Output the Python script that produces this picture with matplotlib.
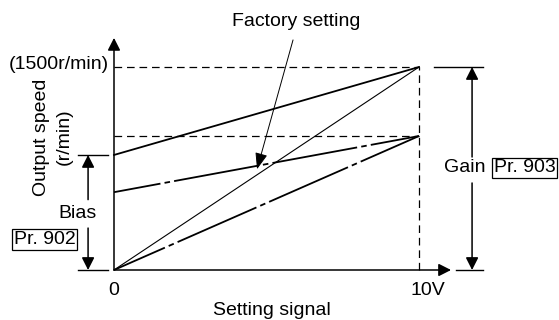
import matplotlib.pyplot as plt

plt.rcParams['font.family'] = ['Liberation Sans', 'DejaVu Sans']
plt.rcParams['lines.scale_dashes'] = False

# setting signal (V) at both ends of each line
signal = [0, 10]
# output speed (r/min) at 0 V and 10 V
factory = [0, 1500]            # thin solid, factory setting
bias_solid = [850, 1500]       # thick solid, bias raised
bias_dashdot = [575, 990]      # dash-dot, bias and gain changed
gain_dashdot = [0, 990]        # dash-dot, gain lowered

max_speed = 1500
gain_level = 990
bias_level = 850

fig = plt.figure(figsize=(5.59, 3.20), dpi=100)
ax = fig.add_axes([114 / 559, 50 / 320, 305 / 559, 203 / 320])
ax.set_xlim(0, 10)
ax.set_ylim(0, max_speed)
ax.axis('off')

fs = 14
dashed = (0, (5.5, 3.5))
arrow = dict(arrowstyle='-|>,head_length=0.75,head_width=0.38', color='black',
             lw=1.1, shrinkA=0, shrinkB=0, mutation_scale=10)

# guide lines
ax.plot([0, 10], [max_speed, max_speed], color='black', lw=0.9, ls=dashed, clip_on=False)
ax.plot([0, 10], [gain_level, gain_level], color='black', lw=0.9, ls=dashed, clip_on=False)
ax.plot([10, 10], [0, max_speed], color='black', lw=0.9, ls=dashed, clip_on=False)

# characteristic lines
ax.plot(signal, factory, color='black', lw=0.8, clip_on=False)
ax.plot(signal, bias_solid, color='black', lw=1.3, clip_on=False)
ax.plot(signal, bias_dashdot, color='black', lw=1.3, ls=(28, (62, 3, 4, 3)), clip_on=False)
ax.plot(signal, gain_dashdot, color='black', lw=1.3, ls=(22, (62, 3, 4, 3)), clip_on=False)

# axes with arrows
ax.annotate('', xy=(11.05, 0), xytext=(0, 0), arrowprops=arrow, annotation_clip=False)
ax.annotate('', xy=(0, 1715), xytext=(0, 0), arrowprops=arrow, annotation_clip=False)

# bias marker
ax.plot([-1.18, -0.2], [bias_level, bias_level], color='black', lw=1.0, clip_on=False)
ax.plot([-1.18, -0.2], [0, 0], color='black', lw=1.0, clip_on=False)
ax.annotate('', xy=(-0.85, bias_level), xytext=(-0.85, 520), arrowprops=arrow, annotation_clip=False)
ax.annotate('', xy=(-0.85, 0), xytext=(-0.85, 310), arrowprops=arrow, annotation_clip=False)
ax.text(-1.21, 421, 'Bias', fontsize=fs, ha='center', va='center')
ax.text(-2.28, 225, 'Pr. 902', fontsize=fs, ha='center', va='center',
        bbox=dict(boxstyle='square,pad=0.08', fc='white', ec='black', lw=0.9))

# gain marker
ax.plot([10.49, 12.1], [max_speed, max_speed], color='black', lw=1.0, clip_on=False)
ax.plot([11.21, 12.1], [0, 0], color='black', lw=1.0, clip_on=False)
ax.annotate('', xy=(11.74, max_speed), xytext=(11.74, 835), arrowprops=arrow, annotation_clip=False)
ax.annotate('', xy=(11.74, 0), xytext=(11.74, 643), arrowprops=arrow, annotation_clip=False)
ax.text(11.49, 754, 'Gain', fontsize=fs, ha='center', va='center')
ax.text(13.46, 754, 'Pr. 903', fontsize=fs, ha='center', va='center',
        bbox=dict(boxstyle='square,pad=0.08', fc='white', ec='black', lw=0.9))

# factory setting callout
ax.annotate('', xy=(4.69, 745), xytext=(5.87, 1700),
            arrowprops=dict(arrowstyle='-|>,head_length=1.0,head_width=0.38', color='black',
                            lw=0.7, shrinkA=0, shrinkB=0, mutation_scale=10),
            annotation_clip=False)
ax.text(5.97, 1833, 'Factory setting', fontsize=fs, ha='center', va='center')

# labels
ax.text(-0.16, 1522, '(1500r/min)', fontsize=fs, ha='right', va='center')
ax.text(-2.0, 983, 'Output speed\n(r/min)', fontsize=fs, ha='center', va='center',
        rotation=90, multialignment='center', linespacing=1.4)
ax.text(0, -155, '0', fontsize=fs, ha='center', va='center')
ax.text(10.3, -155, '10V', fontsize=fs, ha='center', va='center')
ax.text(5.18, -296, 'Setting signal', fontsize=fs, ha='center', va='center')

fig.savefig('out.png', dpi=100)
